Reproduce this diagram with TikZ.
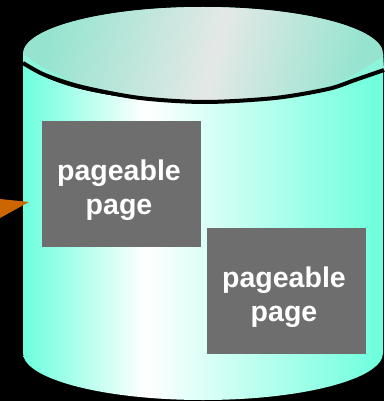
\documentclass[tikz,border=0pt]{standalone}
\usepackage{fontspec}
\setmainfont{Liberation Sans}
\usetikzlibrary{shapes, positioning}

\definecolor{aqua}{RGB}{108,255,220}
\definecolor{rimcyan}{RGB}{140,245,220}
\definecolor{lidcyan}{RGB}{150,228,208}
\definecolor{lidgray}{RGB}{228,232,230}
\definecolor{boxgray}{RGB}{110,110,110}
\definecolor{arroworange}{RGB}{204,102,0}

\pgfdeclarehorizontalshading{cylside}{100bp}{color(0bp)=(aqua); color(25bp)=(aqua); color(42bp)=(white); color(75bp)=(aqua); color(100bp)=(aqua)}
\pgfdeclarehorizontalshading{cyllid}{100bp}{color(0bp)=(lidcyan); color(25bp)=(lidcyan); color(52bp)=(lidgray); color(75bp)=(lidcyan); color(100bp)=(lidcyan)}

\tikzset{
  pagebox/.style={fill=boxgray, minimum width=159pt, minimum height=126pt, inner sep=0pt},
  pagetext/.style={text=white, align=center, font=\fontsize{28.5}{34}\selectfont\bfseries}
}

\begin{document}
\begin{tikzpicture}[x=1pt, y=-1pt]
  \useasboundingbox (0,0) rectangle (384,401);
  \fill[black] (0,0) rectangle (384,401);

  % Draw cylinder
  \shade[shading=cylside] (23,54) -- (23,353)
    arc[start angle=180, end angle=0, x radius=180, y radius=47]
    -- (383,54) arc[start angle=0, end angle=180, x radius=180, y radius=48] -- cycle;
  \fill[rimcyan] (23,54) arc[start angle=180, end angle=360, x radius=180, y radius=47]
    -- plot[smooth] coordinates {(384,70) (355,80) (328,89) (275,98) (205,102)
       (140,98) (82,87) (45,75) (23,63)} -- cycle;
  \shade[shading=cyllid, shading angle=-15] (23,54) arc[start angle=180, end angle=360, x radius=180, y radius=47]
    -- plot[smooth] coordinates {(383,56) (355,74) (328,86) (275,97) (205,101)
       (140,97) (82,85) (50,71) (30,59) (23,54)} -- cycle;
  \draw[black, line width=4pt] plot[smooth] coordinates {(384,70) (355,80) (328,89)
    (275,98) (205,102) (140,98) (82,87) (45,75) (23,63)};

  % pages
  \node[pagebox] (page1) at (121.5,184) {};
  \node[pagebox] (page2) at (286.5,291) {};
  \node[pagetext] (page1txt) at (119,190) {pageable\\page};
  \node[pagetext] (page2txt) at (284,297) {pageable\\page};

  % arrow head
  \fill[arroworange] (0,199) -- (29,202) -- (0,218) -- cycle;

\end{tikzpicture}
\end{document}
